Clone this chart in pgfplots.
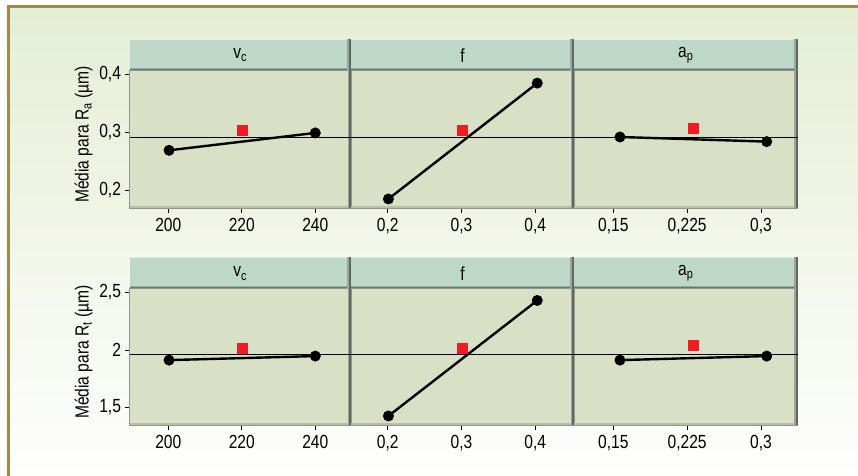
\documentclass[border=0pt]{standalone}
\usepackage{fontspec}
\setmainfont{Liberation Sans}[FakeStretch=0.82]
\usepackage{pgfplots}
\pgfplotsset{compat=1.18}
\definecolor{framec}{HTML}{A08A4A}
\definecolor{bgtop}{HTML}{E4EED4}
\definecolor{hdr}{HTML}{BDD8C8}
\definecolor{plotbg}{HTML}{D8E0C6}
\definecolor{sep}{HTML}{5E6A60}
\definecolor{redm}{HTML}{EE1D25}
\newcommand{\lblfont}{\fontsize{19bp}{20bp}\selectfont}
\pgfplotsset{
  panel/.style={
    scale only axis, anchor=south west,
    axis background/.style={fill=plotbg},
    axis line style={draw=sep!70, line width=0.6bp},
    tick align=outside, xtick pos=bottom, ytick pos=left,
    major tick length=5bp,
    tick style={black, line width=0.6bp},
    xtick={0,1,2},
    clip=false,
    ticklabel style={font=\lblfont},
    xticklabel style={yshift=-2bp},
  },
  row1/.style={ymin=0.1694, ymax=0.4068, height=137.5bp},
  row2/.style={ymin=1.35, ymax=2.532, height=136.7bp},
  nolab/.style={ytick=\empty},
  meanline/.style={black, line width=0.9bp},
  eff/.style={black, line width=2.4bp, mark=*, mark size=5.2bp, mark options={fill=black, line width=0.5bp}},
  ctr/.style={only marks, mark=square*, mark size=5bp, color=redm},
}
\newcommand{\panelshade}{%
  \draw[plotbg!85!black, line width=2bp] ([yshift=1bp]rel axis cs:0,0) -- ([yshift=1bp]rel axis cs:1,0);
  \draw[sep!60, line width=2bp] ([xshift=-2.5bp]rel axis cs:1,0) -- ([xshift=-2.5bp]rel axis cs:1,1);
  \draw[sep, line width=1.8bp] ([xshift=-0.9bp]rel axis cs:1,0) -- ([xshift=-0.9bp]rel axis cs:1,1);
}
\begin{document}
\begin{tikzpicture}
\useasboundingbox (0,0) rectangle (858bp,476bp);
\clip (0,0) rectangle (858bp,476bp);
\fill[white] (0,0) rectangle (858bp,476bp);
\shade[top color=bgtop, bottom color=white] (8.5bp,-20bp) rectangle (880bp,469.5bp);
\draw[framec, line width=3bp] (8.5bp,-20bp) -- (8.5bp,469.5bp) -- (880bp,469.5bp);

% ---------- Row 1 (Ra) ----------
\begin{axis}[panel,row1, at={(129.5bp,268bp)}, width=221.5bp,
  xmin=-0.528, xmax=2.486, xticklabels={200,220,240},
  ytick={0.2,0.3,0.4}, yticklabels={{0,2},{0,3},{0,4}}]
\panelshade
\addplot[meanline] coordinates {(-0.528,0.292) (2.486,0.292)};
\addplot[eff] coordinates {(0.01,0.269) (2.0,0.299)};
\addplot[ctr] coordinates {(1.0,0.3045)};
\end{axis}
\begin{axis}[panel,row1,nolab, at={(351bp,268bp)}, width=223bp,
  xmin=-0.497, xmax=2.525, xticklabels={{0,2},{0,3},{0,4}}]
\panelshade
\addplot[meanline] coordinates {(-0.497,0.292) (2.525,0.292)};
\addplot[eff] coordinates {(0.01,0.185) (2.027,0.385)};
\addplot[ctr] coordinates {(1.016,0.3045)};
\end{axis}
\begin{axis}[panel,row1,nolab, at={(574bp,268bp)}, width=223.5bp,
  xmin=-0.532, xmax=2.494, xticklabels={{0,15},{0,225},{0,3}}]
\panelshade
\addplot[meanline] coordinates {(-0.532,0.292) (2.494,0.292)};
\addplot[eff] coordinates {(0.09,0.292) (2.077,0.284)};
\addplot[ctr] coordinates {(1.079,0.307)};
\end{axis}

% ---------- Row 2 (Rt) ----------
\begin{axis}[panel,row2, at={(129.5bp,51bp)}, width=221.5bp,
  xmin=-0.528, xmax=2.486, xticklabels={200,220,240},
  ytick={1.5,2,2.5}, yticklabels={{1,5},2,{2,5}}]
\panelshade
\addplot[meanline] coordinates {(-0.528,1.957) (2.486,1.957)};
\addplot[eff] coordinates {(0.01,1.911) (2.0,1.946)};
\addplot[ctr] coordinates {(1.0,2.017)};
\end{axis}
\begin{axis}[panel,row2,nolab, at={(351bp,51bp)}, width=223bp,
  xmin=-0.497, xmax=2.525, xticklabels={{0,2},{0,3},{0,4}}]
\panelshade
\addplot[meanline] coordinates {(-0.497,1.957) (2.525,1.957)};
\addplot[eff] coordinates {(0.01,1.428) (2.027,2.427)};
\addplot[ctr] coordinates {(1.016,2.017)};
\end{axis}
\begin{axis}[panel,row2,nolab, at={(574bp,51bp)}, width=223.5bp,
  xmin=-0.532, xmax=2.494, xticklabels={{0,15},{0,225},{0,3}}]
\panelshade
\addplot[meanline] coordinates {(-0.532,1.957) (2.494,1.957)};
\addplot[eff] coordinates {(0.09,1.911) (2.077,1.946)};
\addplot[ctr] coordinates {(1.079,2.044)};
\end{axis}

% ---------- Header strips ----------
\foreach \yb/\yt in {405.5/437, 187.7/218.7}{
  \fill[hdr] (129.5bp,\yb bp) rectangle (797.5bp,\yt bp);
  \draw[hdr!55!black, line width=1.5bp] (129.5bp,\yb bp+0.75bp) -- (797.5bp,\yb bp+0.75bp);
  \draw[hdr!80!black, line width=1bp] (129.5bp,\yb bp+2bp) -- (797.5bp,\yb bp+2bp);
  \draw[white!60!hdr, line width=0.8bp] (129.5bp,\yt bp-0.4bp) -- (797.5bp,\yt bp-0.4bp);
  \foreach \xr in {351,574,797.5}{
    \fill[sep!60] (\xr bp-4bp,\yb bp) rectangle (\xr bp-1.8bp,\yt bp);
    \fill[sep] (\xr bp-1.8bp,\yb bp) rectangle (\xr bp,\yt bp);
  }
}
\foreach \yc in {420.5, 202.5}{
  \node[font=\lblfont] at (240.25bp,\yc bp) {v\textsubscript{c}};
  \node[font=\lblfont] at (462.5bp,\yc bp) {f};
  \node[font=\lblfont] at (685.75bp,\yc bp) {a\textsubscript{p}};
}

% ---------- Y labels ----------
\node[rotate=90, font=\lblfont] at (83.5bp,341.5bp) {Média para R\textsubscript{a} (µm)};
\node[rotate=90, font=\lblfont] at (83.5bp,124bp) {Média para R\textsubscript{t} (µm)};
\end{tikzpicture}
\end{document}
